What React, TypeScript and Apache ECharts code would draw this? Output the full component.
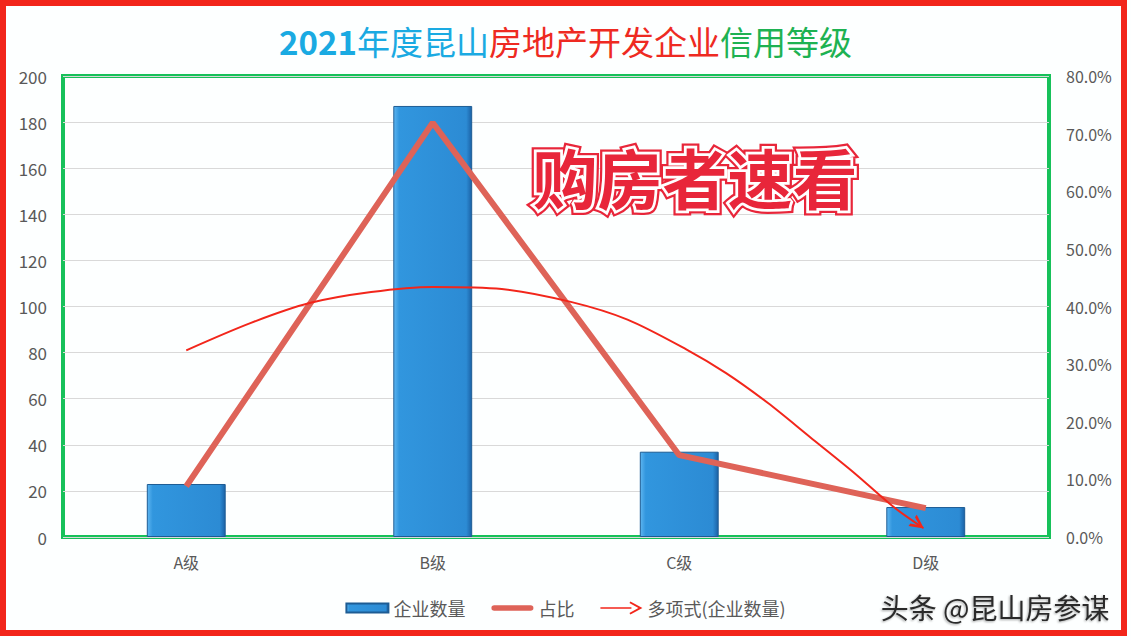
import React, { useEffect, useRef } from "react";
import * as echarts from "echarts";

const categories = ["A级", "B级", "C级", "D级"];
const companyCounts = [23, 187, 37, 13];
const shareRatios = [0.088, 0.719, 0.142, 0.05];
// trend curve: x in category units (A=1 … D=4), y on the left axis
const trendX = [1.0, 1.26, 1.5, 1.75, 2.0, 2.28, 2.56, 2.79, 3.03, 3.19, 3.36, 3.53, 3.71, 3.87, 3.99];
const trendY = [81, 92.8, 101.5, 106.3, 108.5, 107.6, 102, 94.3, 81.3, 71.1, 58.1, 43.4, 27.8, 13.0, 3.9];
const leftTicks = { min: 0, max: 200, interval: 20 };
const rightTicks = { min: 0, max: 0.8, interval: 0.1 };

const CJK = '"Noto Sans CJK SC", "Noto Sans", sans-serif';

export default function App() {
  const ref = useRef<HTMLDivElement>(null);
  useEffect(() => {
    if (!ref.current) return;
    const chart = echarts.init(ref.current, null, { renderer: "svg" });
    const barGradient = new echarts.graphic.LinearGradient(0, 0, 1, 0, [
      { offset: 0, color: "#5DB5F0" },
      { offset: 0.07, color: "#3196DE" },
      { offset: 0.93, color: "#2C8BD4" },
      { offset: 1, color: "#1B62A6" },
    ]);
    const trendData = trendX.map((x, i) => {
      if (i === trendX.length - 1) {
        return {
          value: [x, trendY[i]],
          symbol: "path://M0,0 L12,6 L0,12 L0,9.4 L7.2,6 L0,2.6 Z",
          symbolSize: [14, 14],
          symbolRotate: -36,
          symbolOffset: [-5, -3.5],
          itemStyle: { color: "#F2261B" },
        };
      }
      return [x, trendY[i]];
    });
    chart.setOption({
      animation: false,
      backgroundColor: "#FDFFFF",
      textStyle: { fontFamily: CJK },
      title: {
        left: "center",
        top: 19,
        text: "{d|2021}{b|年度昆山}{r|房地产开发企业}{g|信用等级}",
        textStyle: {
          fontWeight: "normal",
          rich: {
            d: { color: "#1AAAE2", fontSize: 33, fontWeight: "bold", fontFamily: CJK },
            b: { color: "#1AAAE2", fontSize: 33, fontWeight: "normal", fontFamily: CJK },
            r: { color: "#EE2A22", fontSize: 33, fontWeight: "normal", fontFamily: CJK },
            g: { color: "#1DB252", fontSize: 33, fontWeight: "normal", fontFamily: CJK },
          },
        },
      },
      grid: {
        left: 63,
        right: 82,
        top: 76,
        bottom: 103,
        show: true,
        borderColor: "#17C15A",
        borderWidth: 4,
      },
      legend: {
        bottom: 18,
        left: "center",
        itemWidth: 42,
        itemHeight: 13,
        itemGap: 26,
        textStyle: { color: "#595959", fontSize: 18, fontFamily: CJK },
        data: [
          { name: "企业数量", icon: "path://M0,0 L42,0 L42,9 L0,9 Z" },
          { name: "占比", icon: "path://M3,0 L42,0 A3,3 0 0 1 42,6 L3,6 A3,3 0 0 1 3,0 Z" },
          {
            name: "多项式(企业数量)",
            icon: "path://M0,5.8 L31,5.8 L31,7.2 L0,7.2 Z M30,0 L42,6.5 L30,13 L29,11.4 L38,6.5 L29,1.6 Z",
          },
        ],
      },
      xAxis: [
        {
          type: "category",
          data: categories,
          axisLine: { show: false },
          axisTick: { show: false },
          axisLabel: { color: "#595959", fontSize: 16, margin: 17 },
        },
        { type: "value", min: 0.5, max: 4.5, show: false },
      ],
      yAxis: [
        {
          type: "value",
          ...leftTicks,
          axisLine: { show: false },
          axisTick: { show: false },
          axisLabel: { color: "#595959", fontSize: 17, margin: 16 },
          splitLine: { lineStyle: { color: "#D9D9D9", width: 1 } },
        },
        {
          type: "value",
          ...rightTicks,
          position: "right",
          axisLine: { show: false },
          axisTick: { show: false },
          splitLine: { show: false },
          axisLabel: {
            color: "#595959",
            fontSize: 16,
            margin: 17,
            formatter: (v: number) => (v * 100).toFixed(1) + "%",
          },
        },
      ],
      series: [
        {
          name: "企业数量",
          type: "bar",
          data: companyCounts,
          barWidth: "32%",
          itemStyle: { color: barGradient, borderColor: "#1D5C94", borderWidth: 1 },
        },
        {
          name: "占比",
          type: "line",
          yAxisIndex: 1,
          data: shareRatios,
          symbol: "none",
          lineStyle: { color: "#DE6358", width: 6 },
          itemStyle: { color: "#DE6358" },
          z: 3,
        },
        {
          name: "多项式(企业数量)",
          type: "line",
          xAxisIndex: 1,
          yAxisIndex: 0,
          data: trendData,
          smooth: 0.3,
          symbol: "none",
          lineStyle: { color: "#F2261B", width: 2 },
          itemStyle: { color: "#F2261B" },
          z: 4,
        },
      ],
      graphic: [
        {
          type: "rect",
          shape: { x: 3, y: 3, width: 1121, height: 630 },
          style: { fill: "none", stroke: "#F2261B", lineWidth: 6 },
          silent: true,
        },
        {
          type: "text",
          x: 695,
          y: 176,
          style: {
            text: "购房者速看",
            fontSize: 65,
            fontWeight: "bold",
            fontFamily: CJK,
            fill: "#E8263A",
            stroke: "#E8263A",
            lineWidth: 10,
            align: "center",
            verticalAlign: "middle",
          },
          z: 10,
        },
        {
          type: "text",
          x: 695,
          y: 176,
          style: {
            text: "购房者速看",
            fontSize: 65,
            fontWeight: "bold",
            fontFamily: CJK,
            fill: "#FFFFFF",
            stroke: "#FFFFFF",
            lineWidth: 5.5,
            align: "center",
            verticalAlign: "middle",
          },
          z: 11,
        },
        {
          type: "text",
          x: 695,
          y: 176,
          style: {
            text: "购房者速看",
            fontSize: 65,
            fontWeight: "bold",
            fontFamily: CJK,
            fill: "#E8263A",
            align: "center",
            verticalAlign: "middle",
          },
          z: 12,
        },
        {
          type: "text",
          x: 995,
          y: 607,
          style: {
            text: "头条 @昆山房参谋",
            fontSize: 28,
            fontFamily: CJK,
            fill: "#2B2B2B",
            align: "center",
            verticalAlign: "middle",
            textShadowColor: "rgba(0,0,0,0.35)",
            textShadowBlur: 2,
            textShadowOffsetX: -1,
            textShadowOffsetY: 1,
          },
          z: 12,
        },
      ],
    });
    return () => chart.dispose();
  }, []);
  return (
    <div
      ref={ref}
      style={{ position: "fixed", left: 0, top: 0, width: 1131, height: 640 }}
    />
  );
}
